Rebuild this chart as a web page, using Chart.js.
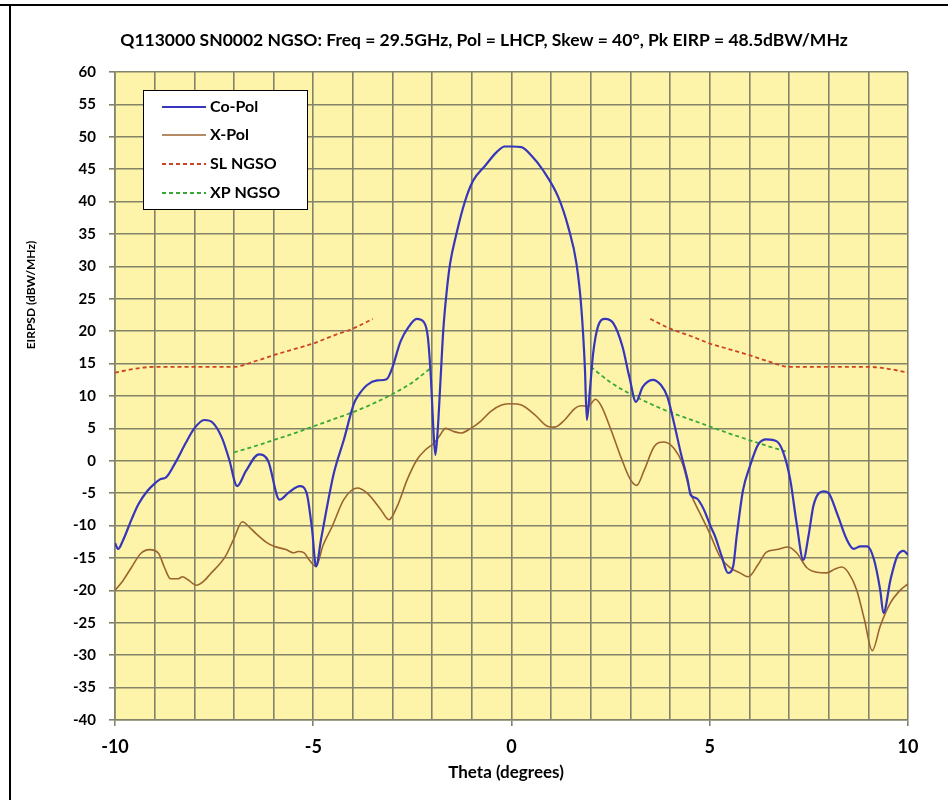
<!DOCTYPE html>
<html>
<head>
<meta charset="utf-8">
<script src="https://cdn.jsdelivr.net/npm/chart.js@4"></script>
<style>
  html, body { margin: 0; padding: 0; background: #fff; }
  #wrap { position: relative; width: 948px; height: 800px; }
</style>
</head>
<body>
<div id="wrap"><canvas id="chart" width="948" height="800"></canvas></div>
<script>
const titleText = "Q113000 SN0002 NGSO: Freq = 29.5GHz, Pol = LHCP, Skew = 40\u00b0, Pk EIRP = 48.5dBW/MHz";
const xTitle = "Theta (degrees)";
const yTitle = "EIRPSD (dBW/MHz)";

// Co-Pol
const coTheta = [-10, -9.92, -9.8, -9.58, -9.41, -9.19, -8.98, -8.85, -8.72, -8.47, -8.22, -8.0, -7.75, -7.54, -7.3,
  -7.12, -6.92, -6.7, -6.37, -6.14, -5.85, -5.62, -5.34, -5.17, -5.03, -4.93, -4.8, -4.48, -4.23, -3.97, -3.85,
  -3.64, -3.39, -3.15, -3.01, -2.8, -2.59, -2.39, -2.21, -2.11, -2.03, -1.97, -1.92, -1.86, -1.79, -1.72, -1.64,
  -1.55, -1.39, -1.18, -0.97, -0.67, -0.38, -0.17, 0, 0.25, 0.5, 0.8, 1.18, 1.43, 1.64, 1.76, 1.85, 1.9, 1.97,
  2.06, 2.18, 2.36, 2.57, 2.8, 2.97, 3.14, 3.31, 3.56, 3.77, 3.93, 4.1, 4.27, 4.44, 4.52, 4.67, 4.85, 5.02, 5.13,
  5.3, 5.46, 5.59, 5.68, 5.84, 6.01, 6.22, 6.43, 6.69, 6.86, 7.03, 7.19, 7.36, 7.49, 7.62, 7.87, 8.0, 8.21, 8.46,
  8.63, 8.8, 8.97, 9.14, 9.3, 9.38, 9.56, 9.73, 9.89, 10];
const coPol = [-12.7, -13.6, -12.3, -9.0, -6.7, -4.7, -3.4, -2.8, -2.6, -0.2, 2.7, 5.0, 6.3, 5.9, 3.5,
  0.2, -3.9, -1.6, 1.0, 0.0, -6.0, -4.9, -3.9, -4.9, -10.6, -16.3, -12.0, -1.9, 3.2, 8.9, 10.2,
  11.7, 12.4, 12.6, 14.3, 18.4, 20.7, 21.9, 21.4, 19.1, 12.5, 4.8, 0.9, 4.8, 12.5, 20.2, 25.8,
  30.4, 35.0, 39.9, 43.2, 45.5, 47.6, 48.5, 48.5, 48.4, 47.1, 44.8, 40.7, 36.1, 30.4, 23.7, 14.5, 6.3, 10.4,
  16.6, 20.7, 21.9, 21.2, 17.6, 13.0, 9.1, 11.4, 12.5, 11.7, 9.9, 5.8, 1.2, -2.9, -5.3, -5.8, -7.5, -10.1, -11.6,
  -14.7, -17.3, -16.3, -11.6, -4.5, -0.9, 2.5, 3.3, 3.0, 1.2, -2.9, -9.6, -15.3, -11.6, -6.8, -4.7, -5.0, -8.1, -12.2,
  -13.6, -13.2, -13.2, -15.2, -20.0, -23.5, -18.3, -14.7, -13.9, -14.5];

// X-Pol
const xpTheta = [-10, -9.8, -9.59, -9.35, -9.13, -8.9, -8.75, -8.6, -8.4, -8.3, -8.15, -7.95, -7.75, -7.6, -7.22,
  -7.0, -6.79, -6.6, -6.45, -6.2, -5.99, -5.69, -5.5, -5.38, -5.23, -5.1, -4.93, -4.75, -4.52, -4.23, -3.89,
  -3.64, -3.3, -3.09, -2.88, -2.63, -2.38, -2.17, -1.96, -1.83, -1.66, -1.45, -1.27, -1.03, -0.78, -0.53, -0.25,
  0, 0.25, 0.59, 0.92, 1.09, 1.34, 1.6, 1.76, 1.93, 2.12, 2.27, 2.52, 2.77, 3.0, 3.16, 3.35, 3.6, 3.85, 4.1,
  4.31, 4.52, 4.77, 5.0, 5.25, 5.51, 5.76, 5.97, 6.22, 6.43, 6.69, 6.98, 7.19, 7.45, 7.7, 7.95, 8.16, 8.33, 8.5,
  8.71, 8.9, 9.1, 9.3, 9.55, 9.8, 10];
const xPol = [-20.0, -18.5, -16.5, -14.3, -13.7, -14.3, -16.5, -18.2, -18.2, -17.9, -18.4, -19.2, -18.5, -17.5, -14.8,
  -12.0, -9.4, -10.3, -11.2, -12.5, -13.2, -13.7, -14.2, -14.0, -14.2, -15.3, -16.3, -13.0, -10.1, -6.0, -4.2,
  -5.0, -7.5, -9.1, -7.0, -2.9, 0.2, 1.7, 2.7, 3.7, 5.0, 4.5, 4.3, 5.0, 6.1, 7.6, 8.6,
  8.8, 8.6, 7.1, 5.3, 5.2, 6.3, 8.1, 8.5, 8.4, 9.5, 8.4, 4.6, 0.4, -2.9, -3.8, -1.4, 2.2, 2.9, 1.9,
  -0.4, -5.0, -8.3, -11.2, -14.7, -16.5, -17.3, -17.9, -16.0, -14.1, -13.7, -13.3, -14.2, -16.5, -17.2, -17.3, -16.7, -16.4, -17.3,
  -20.0, -24.5, -29.3, -25.5, -22.0, -20.0, -19.0];

// SL NGSO mask (two branches)
const slThetaL = [-10, -9.5, -9, -8.5, -8, -7.5, -7, -6.5, -6, -5.5, -5, -4.5, -4, -3.5];
const slMaskL = [13.6, 14.2, 14.5, 14.5, 14.5, 14.5, 14.5, 15.3, 16.3, 17.2, 18.1, 19.3, 20.4, 21.9];
const slThetaR = [3.5, 4, 4.5, 5, 5.5, 6, 6.5, 7, 7.5, 8, 8.5, 9, 9.5, 10];
const slMaskR = [21.9, 20.4, 19.3, 18.1, 17.2, 16.3, 15.3, 14.5, 14.5, 14.5, 14.5, 14.5, 14.2, 13.6];

// XP NGSO mask (two branches)
const xpmThetaL = [-7, -6.5, -6, -5.5, -5, -4.5, -4, -3.5, -3, -2.5, -2];
const xpMaskL = [1.3, 2.2, 3.2, 4.2, 5.3, 6.4, 7.5, 8.8, 10.3, 12.1, 14.5];
const xpmThetaR = [2, 2.5, 3, 3.5, 4, 4.5, 5, 5.5, 6, 6.5, 7];
const xpMaskR = [14.5, 12.1, 10.3, 8.8, 7.5, 6.4, 5.3, 4.2, 3.2, 2.2, 1.3];

const gridColor = "#83836a";
const plotBg = "#fdf3a9";
const font = "Lato, 'Open Sans', sans-serif";

function pts(xs, ys) {
  return xs.map((x, i) => ({ x: x, y: ys[i] }));
}
function twoBranch(xa, ya, xb, yb) {
  return pts(xa, ya).concat([{ x: (xa[xa.length - 1] + xb[0]) / 2, y: null }], pts(xb, yb));
}

// background, frame, titles and legend
const decor = {
  id: "decor",
  beforeDraw(chart) {
    const c = chart.ctx;
    const a = chart.chartArea;
    c.save();
    c.fillStyle = "#fff";
    c.fillRect(0, 0, chart.width, chart.height);
    c.fillStyle = plotBg;
    c.fillRect(a.left, a.top, a.right - a.left, a.bottom - a.top);
    c.strokeStyle = "#000";
    c.lineWidth = 2;
    c.beginPath();
    c.moveTo(0, 5);
    c.lineTo(chart.width, 5);
    c.moveTo(10, 5);
    c.lineTo(10, chart.height);
    c.stroke();
    c.restore();
  },
  afterDraw(chart) {
    const c = chart.ctx;
    c.save();
    c.fillStyle = "#000";
    c.textAlign = "center";
    c.textBaseline = "middle";
    c.font = "bold 17.5px " + font;
    c.fillText(titleText, 484, 40);
    c.font = "bold 17px " + font;
    c.fillText(xTitle, 506, 773);
    c.save();
    c.translate(31, 295);
    c.rotate(-Math.PI / 2);
    c.font = "bold 12px " + font;
    c.fillText(yTitle, 0, 0);
    c.restore();

    // legend box
    c.fillStyle = "#fff";
    c.fillRect(143, 90, 164, 119);
    c.strokeStyle = "#000";
    c.lineWidth = 1;
    c.strokeRect(143.5, 90.5, 164, 119);
    const rowY = [107, 135, 164, 193];
    chart.data.datasets.forEach((ds, i) => {
      c.strokeStyle = ds.borderColor;
      c.lineWidth = ds.borderWidth;
      c.setLineDash(ds.borderDash || []);
      c.beginPath();
      c.moveTo(162, rowY[i]);
      c.lineTo(206, rowY[i]);
      c.stroke();
      c.setLineDash([]);
      c.fillStyle = "#000";
      c.textAlign = "left";
      c.font = "bold 16px " + font;
      c.fillText(ds.label, 210, rowY[i]);
    });
    c.restore();
  }
};

const ctx = document.getElementById("chart").getContext("2d");

new Chart(ctx, {
  type: "scatter",
  data: {
    datasets: [
      {
        label: "Co-Pol",
        data: pts(coTheta, coPol),
        borderColor: "#3636bc",
        borderWidth: 2.2,
      },
      {
        label: "X-Pol",
        data: pts(xpTheta, xPol),
        borderColor: "#9a6430",
        borderWidth: 1.6,
      },
      {
        label: "SL NGSO",
        data: twoBranch(slThetaL, slMaskL, slThetaR, slMaskR),
        borderColor: "#cc4422",
        borderWidth: 1.8,
        borderDash: [4, 3],
      },
      {
        label: "XP NGSO",
        data: twoBranch(xpmThetaL, xpMaskL, xpmThetaR, xpMaskR),
        borderColor: "#3aa838",
        borderWidth: 1.8,
        borderDash: [4, 3],
      },
    ].map((d) => Object.assign(d, {
      showLine: true,
      pointRadius: 0,
      pointHoverRadius: 0,
      cubicInterpolationMode: "monotone",
      spanGaps: false,
      fill: false,
    })),
  },
  options: {
    responsive: false,
    animation: false,
    devicePixelRatio: 1,
    layout: { padding: { left: 0, right: 40, top: 72, bottom: 0 } },
    plugins: {
      legend: { display: false },
      title: { display: false },
      tooltip: { enabled: false },
    },
    scales: {
      x: {
        type: "linear",
        min: -10,
        max: 10,
        afterFit: (s) => { s.height = 80; },
        grid: {
          color: gridColor,
          lineWidth: 1.6,
          tickLength: 6,
          tickColor: (c) => (c.tick && c.tick.value % 5 === 0 ? gridColor : "rgba(0,0,0,0)"),
        },
        border: { color: gridColor, width: 1.6 },
        ticks: {
          stepSize: 1,
          autoSkip: false,
          maxRotation: 0,
          padding: 10,
          color: "#000",
          font: { family: font, size: 18, weight: "bold" },
          callback: (v) => (v % 5 === 0 ? v : ""),
        },
      },
      y: {
        type: "linear",
        min: -40,
        max: 60,
        afterFit: (s) => { s.width = 115; },
        grid: { color: gridColor, lineWidth: 1.6, tickLength: 6, tickColor: gridColor },
        border: { color: gridColor, width: 1.6 },
        ticks: {
          stepSize: 5,
          autoSkip: false,
          padding: 13,
          color: "#000",
          font: { family: font, size: 15, weight: "bold" },
        },
      },
    },
  },
  plugins: [decor],
});
</script>
</body>
</html>
